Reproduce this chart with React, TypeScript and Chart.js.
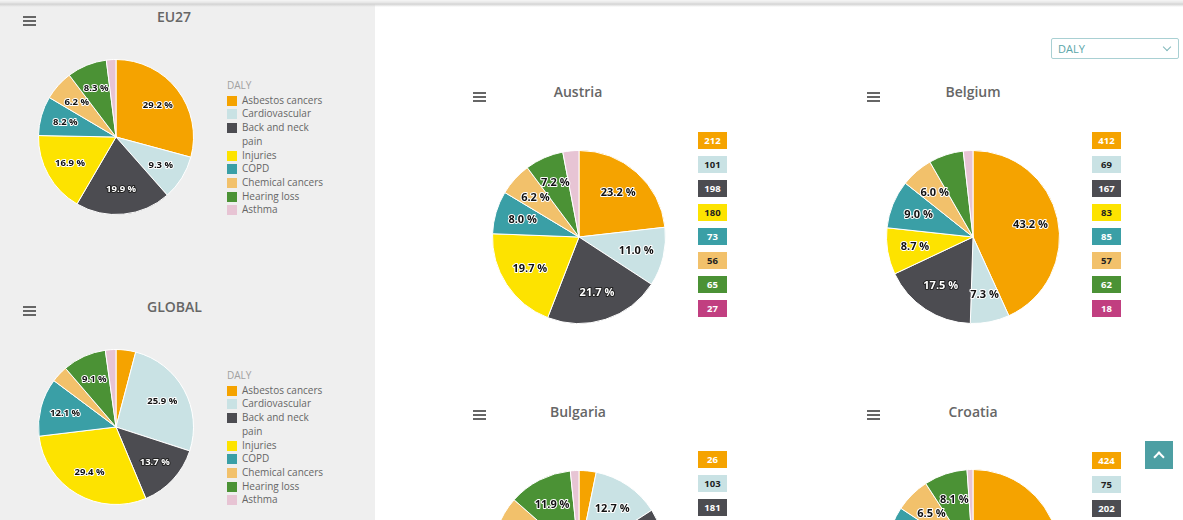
import React, { useEffect, useRef } from "react";
import { Chart, registerables } from "chart.js";

Chart.register(...registerables);
Chart.defaults.font.family = "'Open Sans', sans-serif";

// ---------- data ----------
const categories = [
  "Asbestos cancers",
  "Cardiovascular",
  "Back and neck pain",
  "Injuries",
  "COPD",
  "Chemical cancers",
  "Hearing loss",
  "Asthma",
];
const legendTitle = "DALY";
const selectorValue = "DALY";

// shares (%) of DALY per cause
const eu27Shares = [29.2, 9.3, 19.9, 16.9, 8.2, 6.2, 8.3, 2.0];
const globalShares = [4.1, 25.9, 13.7, 29.4, 12.1, 3.5, 9.1, 2.2];
const austriaShares = [23.2, 11.0, 21.7, 19.7, 8.0, 6.2, 7.2, 3.0];
const belgiumShares = [43.2, 7.3, 17.5, 8.7, 9.0, 6.0, 6.5, 1.8];
const bulgariaShares = [3.2, 12.7, 22.4, 32.1, 9.9, 6.2, 11.9, 1.6];
const croatiaShares = [41.2, 7.3, 19.6, 9.3, 6.9, 6.5, 8.1, 1.1];

// DALY values shown in the badges
const austriaValues = [212, 101, 198, 180, 73, 56, 65, 27];
const belgiumValues = [412, 69, 167, 83, 85, 57, 62, 18];
const bulgariaValues = [26, 103, 181];
const croatiaValues = [424, 75, 202];

// ---------- styles ----------
const sliceColors = ["#f5a300", "#c9e2e4", "#4c4c51", "#fde300", "#3a9fa6", "#f2c16b", "#4b9235", "#e7c4d4"];
const badgeColors = ["#f5a300", "#c9e2e4", "#4c4c51", "#fde300", "#3a9fa6", "#f2c16b", "#4b9235", "#c13f80"];
const badgeTextColors = ["#fff", "#222", "#fff", "#222", "#fff", "#222", "#fff", "#fff"];
const darkSlice = [false, false, true, false, false, false, false, false];

function makeLabelPlugin(fontSize: number, hidden: number[]) {
  return {
    id: "sliceLabels",
    afterDatasetsDraw(chart: any) {
      const ctx = chart.ctx;
      const meta = chart.getDatasetMeta(0);
      const vals: number[] = chart.data.datasets[0].data;
      const total = vals.reduce((a, b) => a + b, 0);
      meta.data.forEach((arc: any, i: number) => {
        const pct = (vals[i] / total) * 100;
        if (pct < 5 || hidden.includes(i)) return;
        const p = arc.getProps(["x", "y", "startAngle", "endAngle", "outerRadius"], true);
        const mid = (p.startAngle + p.endAngle) / 2;
        const d = p.outerRadius * 0.68;
        const lx = p.x + Math.cos(mid) * d;
        const ly = p.y + Math.sin(mid) * d;
        const text = pct.toFixed(1) + " %";
        ctx.save();
        ctx.font = `bold ${fontSize}px 'Open Sans', sans-serif`;
        ctx.textAlign = "center";
        ctx.textBaseline = "middle";
        ctx.lineJoin = "round";
        ctx.lineWidth = 2;
        ctx.strokeStyle = darkSlice[i] ? "#222" : "#fff";
        ctx.strokeText(text, lx, ly);
        ctx.fillStyle = darkSlice[i] ? "#fff" : "#111";
        ctx.fillText(text, lx, ly);
        ctx.restore();
      });
    },
  };
}

function PieCanvas(props: { shares: number[]; cx: number; cy: number; r: number; fontSize: number; hidden?: number[] }) {
  const ref = useRef<HTMLCanvasElement>(null);
  const size = Math.round(2 * props.r + 2);
  useEffect(() => {
    const chart = new Chart(ref.current as HTMLCanvasElement, {
      type: "pie",
      data: {
        labels: categories,
        datasets: [
          {
            data: props.shares,
            backgroundColor: sliceColors,
            borderColor: "#ffffff",
            borderWidth: 1,
          },
        ],
      },
      options: {
        animation: false,
        responsive: false,
        maintainAspectRatio: false,
        events: [],
        layout: { padding: 0 },
        plugins: { legend: { display: false }, tooltip: { enabled: false }, title: { display: false } },
      },
      plugins: [makeLabelPlugin(props.fontSize, props.hidden || [])],
    } as any);
    return () => chart.destroy();
  }, []);
  return (
    <canvas
      ref={ref}
      width={size}
      height={size}
      style={{ position: "absolute", left: props.cx - size / 2, top: props.cy - size / 2, width: size, height: size }}
    />
  );
}

function Burger({ x, y }: { x: number; y: number }) {
  const bar = (dy: number) => (
    <div style={{ position: "absolute", left: 0, top: dy, width: 13, height: 2, background: "#666" }} />
  );
  return (
    <div style={{ position: "absolute", left: x, top: y, width: 13, height: 10 }}>
      {bar(0)}
      {bar(4)}
      {bar(8)}
    </div>
  );
}

function Title({ text, cx, cy }: { text: string; cx: number; cy: number }) {
  return (
    <div
      style={{
        position: "absolute",
        left: cx - 100,
        top: cy - 10,
        width: 200,
        height: 20,
        lineHeight: "20px",
        textAlign: "center",
        fontFamily: "'Open Sans', sans-serif",
        fontSize: 14,
        fontWeight: 600,
        color: "#666",
      }}
    >
      {text}
    </div>
  );
}

function Legend({ x, y }: { x: number; y: number }) {
  return (
    <div style={{ position: "absolute", left: x, top: y, fontFamily: "'Open Sans', sans-serif", fontSize: 10, lineHeight: "13.7px" }}>
      <div style={{ color: "#a0a0a0", marginBottom: 1 }}>{legendTitle}</div>
      {categories.map((c, i) => (
        <div key={c} style={{ display: "flex", alignItems: "flex-start" }}>
          <div style={{ width: 10, height: 10, marginTop: 2, background: sliceColors[i], flex: "none" }} />
          <div style={{ width: 86, marginLeft: 5, color: "#666" }}>{c}</div>
        </div>
      ))}
    </div>
  );
}

function Badges({ x, y, values }: { x: number; y: number; values: number[] }) {
  return (
    <>
      {values.map((v, i) => (
        <div
          key={i}
          style={{
            position: "absolute",
            left: x,
            top: y + i * 24,
            width: 29,
            height: 17,
            lineHeight: "17px",
            textAlign: "center",
            background: badgeColors[i],
            color: badgeTextColors[i],
            fontFamily: "'Open Sans', sans-serif",
            fontWeight: 700,
            fontSize: 9.5,
          }}
        >
          {v}
        </div>
      ))}
    </>
  );
}

export default function App() {
  return (
    <div
      style={{
        position: "fixed",
        left: 0,
        top: 0,
        width: 1183,
        height: 520,
        overflow: "hidden",
        background: "#fff",
        fontFamily: "'Open Sans', sans-serif",
      }}
    >
      {/* left grey panel */}
      <div style={{ position: "absolute", left: 0, top: 0, width: 375, height: 520, background: "#efefef" }} />
      {/* top shadow band */}
      <div
        style={{
          position: "absolute",
          left: 0,
          top: 0,
          width: 1183,
          height: 7,
          background: "linear-gradient(to bottom, #f6f6f6 0px, #e4e4e4 3px, #d2d2d2 4px, rgba(210,210,210,0) 7px)",
        }}
      />

      {/* EU27 */}
      <Burger x={23} y={16} />
      <Title text="EU27" cx={174} cy={17} />
      <PieCanvas shares={eu27Shares} cx={115.5} cy={136.5} r={77} fontSize={9.5} />
      <Legend x={227} y={79} />

      {/* GLOBAL */}
      <Burger x={23} y={306} />
      <Title text="GLOBAL" cx={174.5} cy={307} />
      <PieCanvas shares={globalShares} cx={115.5} cy={426.5} r={77} fontSize={9.5} />
      <Legend x={227} y={369} />

      {/* selector */}
      <div
        style={{
          position: "absolute",
          left: 1051,
          top: 38,
          width: 120,
          height: 19,
          border: "1px solid #a9d0d3",
          borderRadius: 2,
          color: "#5aa6a9",
          fontSize: 11,
          lineHeight: "19px",
          paddingLeft: 6,
          boxSizing: "content-box",
        }}
      >
        {selectorValue}
        <div
          style={{
            position: "absolute",
            right: 8,
            top: 5,
            width: 5,
            height: 5,
            borderRight: "1.5px solid #7fb7ba",
            borderBottom: "1.5px solid #7fb7ba",
            transform: "rotate(45deg)",
          }}
        />
      </div>

      {/* Austria */}
      <Burger x={473} y={92} />
      <Title text="Austria" cx={578} cy={92} />
      <PieCanvas shares={austriaShares} cx={578.5} cy={237} r={86} fontSize={11} />
      <Badges x={698} y={132} values={austriaValues} />

      {/* Belgium */}
      <Burger x={867} y={92} />
      <Title text="Belgium" cx={973} cy={92} />
      <PieCanvas shares={belgiumShares} cx={972.5} cy={237} r={86} fontSize={11} hidden={[6]} />
      <Badges x={1092} y={132} values={belgiumValues} />

      {/* Bulgaria */}
      <Burger x={473} y={410} />
      <Title text="Bulgaria" cx={578} cy={412} />
      <PieCanvas shares={bulgariaShares} cx={578.5} cy={556.5} r={86} fontSize={11} />
      <Badges x={698} y={451} values={bulgariaValues} />

      {/* Croatia */}
      <Burger x={867} y={410} />
      <Title text="Croatia" cx={973} cy={412} />
      <PieCanvas shares={croatiaShares} cx={973} cy={556} r={86} fontSize={11} />
      <Badges x={1092} y={452} values={croatiaValues} />

      {/* back-to-top button */}
      <div style={{ position: "absolute", left: 1145, top: 441, width: 28, height: 28, background: "#4d9fa3" }}>
        <div
          style={{
            position: "absolute",
            left: 10,
            top: 12,
            width: 6,
            height: 6,
            borderLeft: "2px solid #fff",
            borderTop: "2px solid #fff",
            transform: "rotate(45deg)",
          }}
        />
      </div>
    </div>
  );
}
